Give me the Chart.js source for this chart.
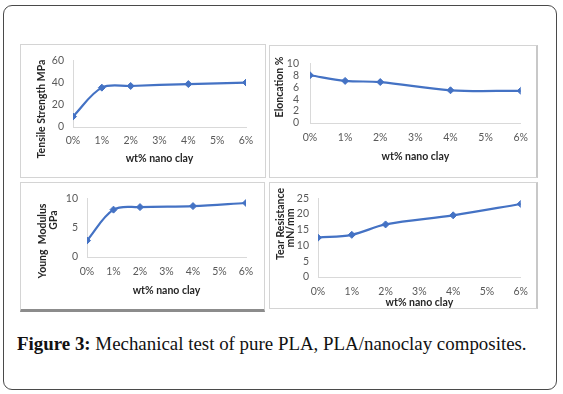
<!DOCTYPE html>
<html>
<head>
<meta charset="utf-8">
<script src="https://cdn.jsdelivr.net/npm/chart.js@4"></script>
<style>
  body { margin: 0; background: #fff; width: 563px; height: 394px; position: relative; overflow: hidden; }
  .frame { position: absolute; left: 3px; top: 5px; width: 554px; height: 385px; box-sizing: border-box;
           border: 1.5px solid #4a4a4a; border-radius: 9px; }
  .panel { position: absolute; box-sizing: border-box; border: 1px solid #d4d4d4; background: #fff; }
  .panel canvas { position: absolute; left: 0; top: 0; }
  .caption { position: absolute; left: 17px; top: 333px; font-family: "Liberation Serif", "DejaVu Serif", serif;
             font-size: 18.9px; color: #111; white-space: nowrap; }
</style>
</head>
<body>
<div class="frame"></div>
<div class="panel" style="left:20px;top:44px;width:246px;height:134px"><canvas id="tensile" width="244" height="132"></canvas></div>
<div class="panel" style="left:269px;top:45px;width:269px;height:133px;border-right:2px solid #c8c8c8"><canvas id="elong" width="266" height="131"></canvas></div>
<div class="panel" style="left:20px;top:182px;width:245px;height:130px;border-bottom:3px solid #8c8c8c"><canvas id="young" width="243" height="126"></canvas></div>
<div class="panel" style="left:269px;top:182px;width:269px;height:127px;border-right:2px solid #c8c8c8"><canvas id="tear" width="266" height="125"></canvas></div>
<div class="caption"><b>Figure 3:</b> Mechanical test of pure PLA, PLA/nanoclay composites.</div>

<script>
// wt% nano clay loadings that were measured
const clayLoading = [0, 1, 2, 4, 6];
const xTickLabels = ["0%", "1%", "2%", "3%", "4%", "5%", "6%"];

const tensileStrength = [9.4, 35.4, 36.9, 38.6, 40.0]; // MPa
const elongation = [8.0, 7.05, 6.86, 5.48, 5.39]; // %
const youngModulus = [2.8, 8.07, 8.5, 8.67, 9.2]; // GPa
const tearResistance = [12.5, 13.4, 16.7, 19.6, 23.2]; // mN/mm

const lineColor = "#4472C4";
const fontFamily = "Lato, 'Open Sans', sans-serif";
const tickFont = { family: fontFamily, size: 10.5 };
const titleFont = { family: fontFamily, size: 10.5, weight: "bold", lineHeight: 1.1 };

Chart.defaults.devicePixelRatio = 1;
Chart.defaults.animation = false;

// the y titles are longer than the plot is high, chart.js would squeeze them,
// so draw them rotated ourselves
const sideTitle = {
  id: "sideTitle",
  afterDraw(chart, args, opts) {
    const ctx = chart.ctx;
    ctx.save();
    ctx.fillStyle = "#262626";
    ctx.font = "bold 10.5px " + fontFamily;
    ctx.textAlign = "center";
    ctx.textBaseline = "middle";
    opts.lines.forEach((line) => {
      ctx.save();
      ctx.translate(line.x, line.y);
      ctx.rotate(-Math.PI / 2);
      ctx.fillText(line.text, 0, 0);
      ctx.restore();
    });
    ctx.restore();
  },
};

function makePoints(values) {
  return clayLoading.map((x, i) => ({ x: x, y: values[i] }));
}

// box = plot area inside the canvas, plus where titles sit
function makeChart(id, values, yTitleLines, yMax, yStep, box) {
  const canvas = document.getElementById(id);
  const W = canvas.width, H = canvas.height;
  const xBoxBottom = box.xTitleY + 6;

  new Chart(canvas, {
    type: "line",
    data: {
      datasets: [
        {
          data: makePoints(values),
          borderColor: lineColor,
          backgroundColor: lineColor,
          borderWidth: 2.2,
          tension: 0.35,
          pointStyle: "rectRot",
          pointRadius: 3.5,
          pointBorderWidth: 1,
        },
      ],
    },
    plugins: [sideTitle],
    options: {
      responsive: false,
      layout: {
        padding: { left: 0, top: box.top, right: W - box.right, bottom: H - xBoxBottom },
      },
      plugins: {
        legend: { display: false },
        tooltip: { enabled: false },
        sideTitle: { lines: yTitleLines },
      },
      scales: {
        x: {
          type: "linear",
          min: 0,
          max: 6,
          grid: { display: false, drawTicks: false },
          border: { display: true, color: "#d9d9d9", width: 1 },
          ticks: {
            stepSize: 1,
            padding: box.tickPad,
            color: "#595959",
            font: tickFont,
            maxRotation: 0,
            autoSkip: false,
            callback: (v) => xTickLabels[v],
          },
          title: { display: true, text: "wt% nano clay", color: "#262626", font: titleFont, padding: { top: 0, bottom: 0 } },
          afterFit: (scale) => { scale.height = xBoxBottom - box.bottom; },
        },
        y: {
          min: 0,
          max: yMax,
          grid: { display: false, drawTicks: false },
          border: { display: true, color: "#d9d9d9", width: 1 },
          ticks: { stepSize: yStep, padding: box.yTickPad, color: "#595959", font: tickFont, autoSkip: false },
          afterFit: (scale) => { scale.width = box.left; },
        },
      },
    },
  });
}

makeChart("tensile", tensileStrength, [{ text: "Tensile Strength MPa", x: 21, y: 64 }], 60, 20,
  { left: 52, right: 225, top: 12, bottom: 82, tickPad: 7, xTitleY: 113, yTickPad: 9 });
makeChart("elong", elongation, [{ text: "Eloncation %", x: 10, y: 41 }], 10, 2,
  { left: 40, right: 253, top: 5, bottom: 77, tickPad: 8, xTitleY: 110, yTickPad: 11 });
makeChart("young", youngModulus,
  [{ text: "Young  Modulus", x: 22, y: 58 }, { text: "GPa", x: 33, y: 37 }], 10, 5,
  { left: 66, right: 225, top: 12, bottom: 74, tickPad: 8, xTitleY: 107, yTickPad: 9 });
makeChart("tear", tearResistance,
  [{ text: "Tear Resistance", x: 11, y: 41 }, { text: "mN/mm", x: 21, y: 45 }], 25, 5,
  { left: 48, right: 254, top: 6, bottom: 94, tickPad: 8, xTitleY: 119, yTickPad: 9 });
</script>
</body>
</html>
